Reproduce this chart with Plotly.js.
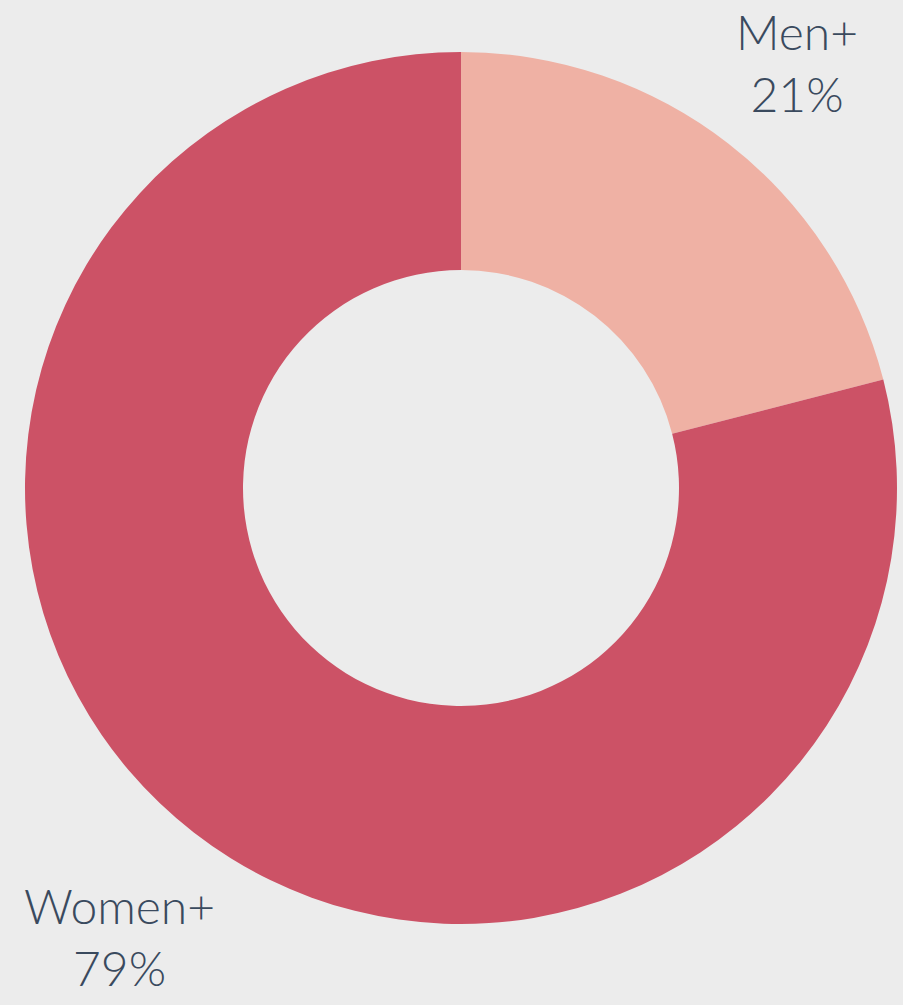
<!DOCTYPE html>
<html>
<head>
<meta charset="utf-8">
<script src="https://cdn.plot.ly/plotly-3.0.1.min.js"></script>
<style>
html,body{margin:0;padding:0;background:#ececec;}
#chart{width:903px;height:1005px;}
</style>
</head>
<body>
<div id="chart"></div>
<script>
const categories = ["Men+", "Women+"];
const shares = [21, 79];
const sliceColors = ["#efb1a4", "#cc5266"];

const W = 903, H = 1005;
const cx = 461, cy = 488, R = 436;

const trace = {
  type: "pie",
  labels: categories,
  values: shares,
  hole: 0.5,
  sort: false,
  direction: "clockwise",
  rotation: 0,
  textinfo: "none",
  hoverinfo: "label+percent",
  marker: {colors: sliceColors, line: {width: 0}},
  domain: {
    x: [(cx - R) / W, (cx + R) / W],
    y: [(H - cy - R) / H, (H - cy + R) / H]
  },
  showlegend: false
};

const labelFont = {family: "Lato, 'Noto Sans', sans-serif", size: 48, color: "#3a4a5e", weight: 300};
const labelPos = [[797, 63], [119, 936]];
const annotations = categories.map((c, i) => ({
  text: c + "<br>" + shares[i] + "%",
  x: labelPos[i][0] / W,
  y: 1 - labelPos[i][1] / H,
  xref: "paper", yref: "paper",
  xanchor: "center", yanchor: "middle",
  align: "center",
  showarrow: false,
  borderpad: 0,
  font: labelFont
}));

const layout = {
  width: W, height: H,
  margin: {l: 0, r: 0, t: 0, b: 0},
  paper_bgcolor: "#ececec",
  plot_bgcolor: "#ececec",
  annotations: annotations
};

Plotly.newPlot("chart", [trace], layout, {displayModeBar: false, staticPlot: true});
</script>
</body>
</html>
